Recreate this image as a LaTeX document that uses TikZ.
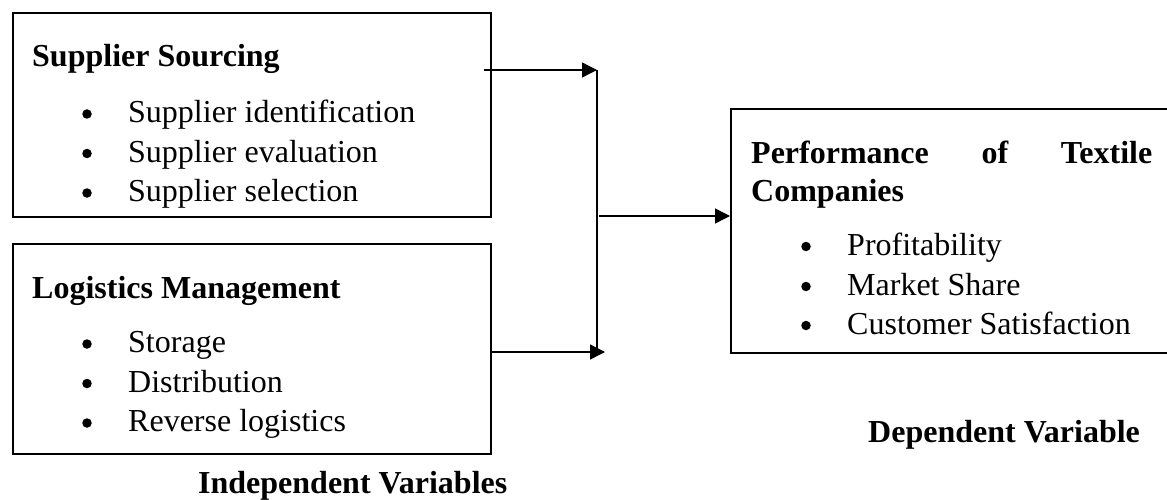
\documentclass[tikz,border=0pt]{standalone}
\usepackage{fontspec}
\setmainfont{Liberation Serif}
\usetikzlibrary{arrows.meta}
\tikzset{
  box/.style={draw=black, line width=2pt, inner sep=0pt},
  head/.style={anchor=base west, inner sep=0pt, font=\fontsize{32}{37}\selectfont\bfseries},
  item/.style={anchor=base west, inner sep=0pt, font=\fontsize{32}{37}\selectfont},
  dot/.style={circle, fill=black, inner sep=0pt, minimum size=9.5pt},
  conn/.style={draw=black, line width=1.4pt},
  arr/.style={conn, -{Triangle[length=15pt,width=15pt]}}
}
\begin{document}
\begin{tikzpicture}[x=1pt,y=-1pt]
\useasboundingbox (0,0) rectangle (1167,500);
\clip (0,0) rectangle (1167,500);
% boxes
\node[box, minimum width=478pt, minimum height=203pt, anchor=north west] (ss) at (12,12.5) {};
\node[box, minimum width=478pt, minimum height=210pt, anchor=north west] (lm) at (12,243) {};
\node[box, minimum width=460pt, minimum height=244pt, anchor=north west] (perf) at (730,108) {};
% Supplier Sourcing
\node[head] (ssh) at (32,67) {Supplier Sourcing};
\node[dot] (sb1) at (87,114) {};
\node[item] (si1) at (128,122.5) {Supplier identification};
\node[dot] (sb2) at (87,153.5) {};
\node[item] (si2) at (128,162) {Supplier evaluation};
\node[dot] (sb3) at (87,193) {};
\node[item] (si3) at (128,201.5) {Supplier selection};
% Logistics Management
\node[head] (lmh) at (32,298) {Logistics Management};
\node[dot] (lb1) at (87,344) {};
\node[item] (li1) at (128,352.5) {Storage};
\node[dot] (lb2) at (87,383.5) {};
\node[item] (li2) at (128,392) {Distribution};
\node[dot] (lb3) at (87,423) {};
\node[item] (li3) at (128,431.5) {Reverse logistics};
% Performance
\node[head] (ph1) at (751,164) {\hbox to 401pt{Performance\hfill of\hfill Textile}};
\node[head] (ph2) at (751,201) {Companies};
\node[dot] (pb1) at (806,246.5) {};
\node[item] (pi1) at (847,255) {Profitability};
\node[dot] (pb2) at (806,286.5) {};
\node[item] (pi2) at (847,295) {Market Share};
\node[dot] (pb3) at (806,325.5) {};
\node[item] (pi3) at (847,334) {Customer Satisfaction};
% captions
\node[head] (iv) at (198,493) {Independent Variables};
\node[head] (dv) at (868,442) {Dependent Variable};
% connectors
\coordinate (s1) at ([xshift=-8pt]ss.east |- 0,70);
\coordinate (j1) at (597,70);
\coordinate (s2) at (lm.east |- 0,352);
\coordinate (j2) at (605,352);
\coordinate (jv) at (597,352);
\coordinate (m1) at (599,216);
\draw[arr] (s1) -- (j1);
\draw[conn] (j1) -- (jv);
\draw[arr] (s2) -- (j2);
\draw[arr] (m1) -- (perf.west |- m1);
\end{tikzpicture}
\end{document}
